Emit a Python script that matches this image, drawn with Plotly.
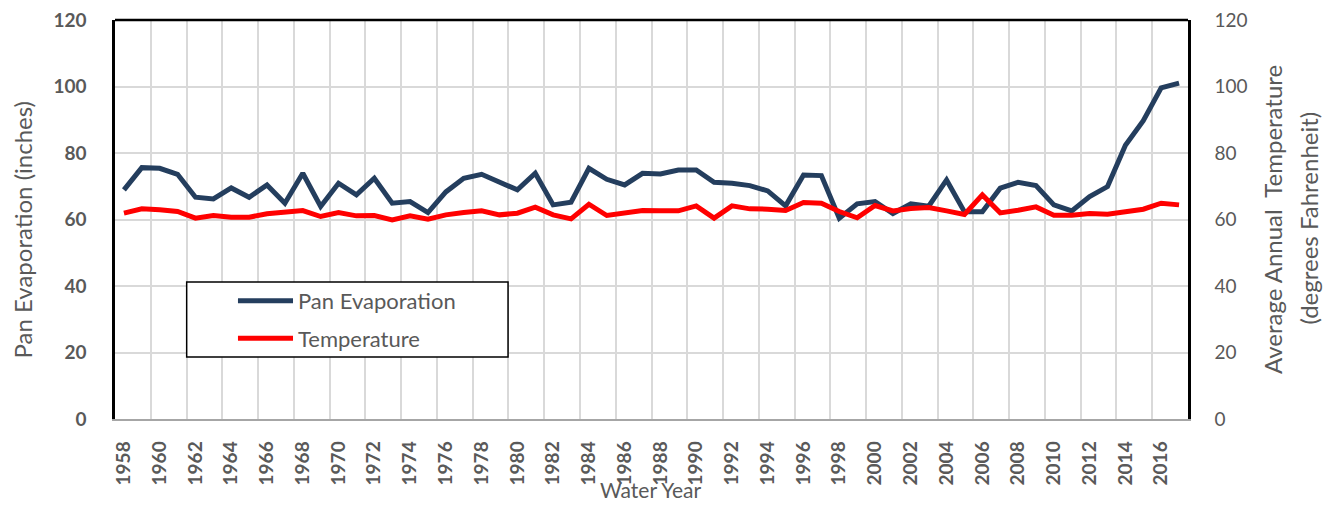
import plotly.graph_objects as go

years = list(range(1958, 2018))
pan_evaporation = [
    68.9, 75.6, 75.4, 73.6, 66.7, 66.2, 69.5, 66.7, 70.4, 64.9,
    73.9, 63.9, 70.9, 67.4, 72.4, 64.9, 65.4, 62.1, 68.3, 72.4,
    73.6, 71.2, 68.9, 73.9, 64.4, 65.2, 75.4, 72.1, 70.4, 73.9,
    73.7, 74.9, 74.9, 71.2, 70.9, 70.2, 68.6, 64.1, 73.4, 73.2,
    60.4, 64.7, 65.4, 61.8, 64.7, 64.0, 71.9, 62.3, 62.3, 69.4,
    71.2, 70.2, 64.4, 62.6, 66.9, 69.9, 82.3, 89.7, 99.6, 101.0,
]
temperature = [
    61.9, 63.2, 62.9, 62.4, 60.4, 61.2, 60.7, 60.7, 61.7, 62.1,
    62.7, 60.9, 62.1, 61.1, 61.2, 59.9, 61.1, 60.1, 61.4, 62.1,
    62.6, 61.4, 61.9, 63.7, 61.4, 60.2, 64.6, 61.2, 62.1, 62.7,
    62.6, 62.6, 64.1, 60.4, 64.1, 63.2, 63.1, 62.7, 65.1, 64.9,
    62.4, 60.5, 64.2, 62.6, 63.3, 63.6, 62.6, 61.5, 67.4, 62.0,
    62.8, 63.8, 61.3, 61.3, 61.8, 61.6, 62.3, 63.1, 64.9, 64.4,
]
year_ticks = list(range(1958, 2017, 2))
y_ticks = [0, 20, 40, 60, 80, 100, 120]

BLUE = "#243E5E"
RED = "#FF0000"
GRAY = "#595959"
GRID = "#D9D9D9"
FONT = "Lato"

fig = go.Figure()
fig.add_trace(go.Scatter(
    x=years, y=pan_evaporation, name="Pan Evaporation", mode="lines",
    line=dict(color=BLUE, width=5), showlegend=False))
fig.add_trace(go.Scatter(
    x=years, y=temperature, name="Temperature", mode="lines", yaxis="y2",
    line=dict(color=RED, width=5), showlegend=False))

fig.update_layout(
    # page body adds an 8px offset, margins compensate for it
    margin=dict(l=107, r=135, t=12, b=85, autoexpand=False),
    paper_bgcolor="white", plot_bgcolor="white",
    font=dict(family=FONT, color=GRAY, size=19),
    xaxis=dict(
        range=[1957.5, 2017.5], tickmode="array", tickvals=year_ticks,
        ticktext=[str(y) for y in year_ticks], tickangle=-90,
        tickfont=dict(family=FONT, size=19, color=GRAY, weight="bold"),
        ticks="", ticklabelstandoff=13, showgrid=False, zeroline=False,
        showline=True, linecolor="#A6A6A6", linewidth=1.5, automargin=False,
        minor=dict(tick0=1957.5, dtick=2, showgrid=True, gridcolor=GRID,
                   gridwidth=1.5, ticks=""),
    ),
    yaxis=dict(
        range=[0, 120], tickmode="array", tickvals=y_ticks,
        tickfont=dict(family=FONT, size=19, color=GRAY, weight="bold"),
        ticklabelstandoff=22, ticklabeloverflow="allow", automargin=False,
        showgrid=True, gridcolor=GRID, gridwidth=1.5,
        zeroline=False, showline=True, linecolor="black", linewidth=2.5,
    ),
    yaxis2=dict(
        range=[0, 120], tickmode="array", tickvals=y_ticks, overlaying="y",
        side="right", tickfont=dict(family=FONT, size=19, color=GRAY),
        ticklabelstandoff=20, ticklabeloverflow="allow", automargin=False,
        showgrid=False, zeroline=False,
        showline=True, linecolor="black", linewidth=2.5,
    ),
    shapes=[
        dict(type="line", xref="paper", yref="paper", x0=0, x1=1, y0=1, y1=1,
             line=dict(color="black", width=2.5)),
        # legend box
        dict(type="rect", xref="paper", yref="paper", x0=0.0668, x1=0.3663,
             y0=0.1554, y1=0.3434, fillcolor="white",
             line=dict(color="black", width=1.5)),
        dict(type="line", xref="paper", yref="paper", x0=0.1146, x1=0.1659,
             y0=0.2965, y1=0.2965, line=dict(color=BLUE, width=5)),
        dict(type="line", xref="paper", yref="paper", x0=0.1146, x1=0.1659,
             y0=0.2023, y1=0.2023, line=dict(color=RED, width=5)),
    ],
    annotations=[
        dict(text="Pan Evaporation", xref="paper", yref="paper", x=0.1687,
             y=0.2965, xanchor="left", yanchor="middle", showarrow=False,
             font=dict(size=22, color=GRAY)),
        dict(text="Temperature", xref="paper", yref="paper", x=0.1687,
             y=0.2023, xanchor="left", yanchor="middle", showarrow=False,
             font=dict(size=22, color=GRAY)),
        dict(text="Pan Evaporation (inches)", xref="paper", yref="paper",
             x=-0.0862, y=0.4737, textangle=-90, xanchor="center",
             yanchor="middle", showarrow=False, font=dict(size=24, color=GRAY)),
        dict(text="Average Annual  Temperature", xref="paper", yref="paper",
             x=1.0783, y=0.4987, textangle=-90, xanchor="center",
             yanchor="middle", showarrow=False, font=dict(size=24, color=GRAY)),
        dict(text="(degrees Fahrenheit)", xref="paper", yref="paper",
             x=1.1114, y=0.5037, textangle=-90, xanchor="center",
             yanchor="middle", showarrow=False, font=dict(size=24, color=GRAY)),
        dict(text="Water Year", xref="paper", yref="paper", x=0.4995,
             y=-0.176, xanchor="center", yanchor="middle", showarrow=False,
             font=dict(size=21, color=GRAY)),
    ],
)

fig.write_html("out.html")
